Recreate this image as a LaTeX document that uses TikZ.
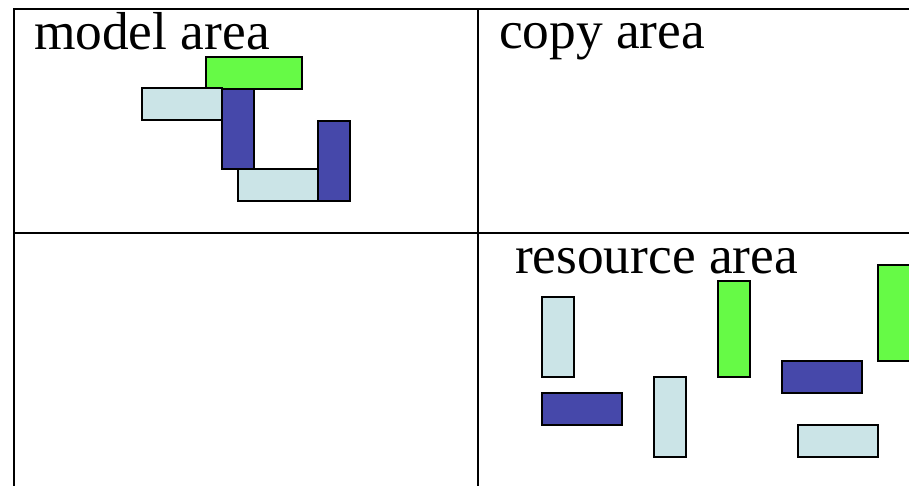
\documentclass[tikz,border=0pt]{standalone}
\usepackage{fontspec}
\setmainfont{Liberation Serif}
\definecolor{tilegreen}{RGB}{102,250,70}
\definecolor{tilelight}{RGB}{203,228,231}
\definecolor{tiledark}{RGB}{70,72,170}
\begin{document}
\begin{tikzpicture}[x=1pt, y=-1pt,
                    line width=2pt,
                    font=\fontsize{53.4}{60}\selectfont]
    \tikzstyle{tile}=[rectangle,draw=black,inner sep=0pt,line width=2pt]
    \tikzstyle{light}=[tile, fill=tilelight];
    \tikzstyle{dark}=[tile, fill=tiledark];
    \tikzstyle{green}=[tile, fill=tilegreen];
    \tikzstyle{flat}=[minimum width=80pt, minimum height=32pt];
    \tikzstyle{upright}=[minimum width=32pt, minimum height=80pt];
    \tikzstyle{caption}=[anchor=base west, inner sep=0pt];

    \useasboundingbox (0,0) rectangle (909,486);
    \clip (0,0) rectangle (909,486);

    % the four areas
    \draw (14,9) rectangle (960,540);
    \draw (478,9) -- (478,540);
    \draw (14,233) -- (960,233);

    \node[caption] (model) at (33,50) {model area};
    \node[caption] (copy) at (498,49) {copy area};
    \node[caption] (resource) at (514,273) {resource area};

    % model
    \node[green, minimum width=96pt, minimum height=32pt] (m1) at (254,73) {};
    \node[light, flat] (m2) at (182,104.5) {};
    \node[dark, upright] (m3) at (238,129) {};
    \node[light, flat] (m4) at (278,185) {};
    \node[dark, upright] (m5) at (334,161) {};

    % resources
    \node[light, upright] (r1) at (558,337) {};
    \node[dark, flat] (r2) at (582,409) {};
    \node[light, upright] (r3) at (670,417) {};
    \node[green, minimum width=32pt, minimum height=96pt] (r4) at (734,329) {};
    \node[dark, flat] (r5) at (822,377) {};
    \node[light, flat] (r6) at (838,441) {};
    \node[green, minimum width=32pt, minimum height=96pt] (r7) at (894,313) {};
\end{tikzpicture}
\end{document}
